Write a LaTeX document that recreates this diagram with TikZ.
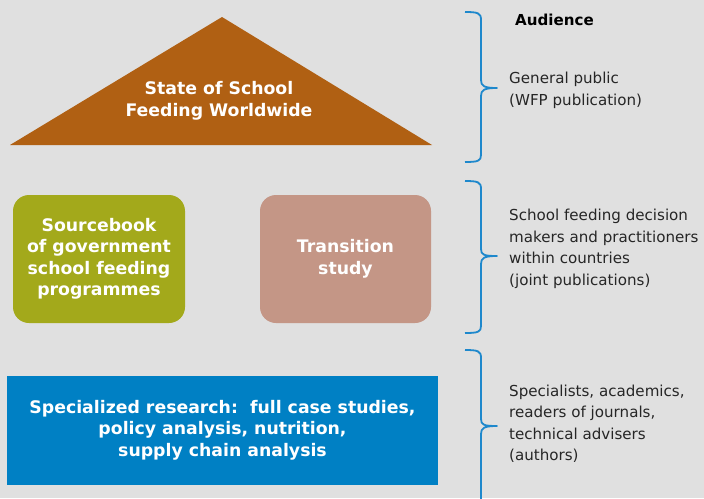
\documentclass[tikz,border=0pt]{standalone}
\usepackage{fontspec}
\setmainfont{DejaVu Sans}
\definecolor{bg}{HTML}{E0E0E0}
\definecolor{roof}{HTML}{B06013}
\definecolor{olive}{HTML}{A3A91B}
\definecolor{rose}{HTML}{C49686}
\definecolor{wfpblue}{HTML}{0080C4}
\definecolor{brace}{HTML}{1E88CC}
\tikzset{
  boxtext/.style={text=white, align=center, font=\fontsize{17.3}{21.5}\selectfont\bfseries},
  audtext/.style={text=black!85, align=left, anchor=north west, inner sep=0pt, font=\fontsize{15.1}{21.6}\selectfont},
  bracestyle/.style={draw=brace, line width=1.8pt, line join=round}
}
\begin{document}
\begin{tikzpicture}[x=1pt,y=-1pt]
\useasboundingbox (0,0) rectangle (704,498);
\fill[bg] (0,0) rectangle (704,498);
% roof
\fill[roof] (10,145) -- (222,17) -- (432,145) -- cycle;
\node[boxtext] (roofT) at (219,101) {State of School\\Feeding Worldwide};
% middle boxes
\node[fill=olive, rounded corners=16pt, minimum width=172pt, minimum height=128pt, boxtext, inner sep=0pt] (src) at (99,259) {Sourcebook\\of government\\school feeding\\programmes};
\node[fill=rose, rounded corners=16pt, minimum width=171pt, minimum height=128pt, boxtext, inner sep=0pt] (trans) at (345.5,259) {Transition\\study};
% blue box
\node[fill=wfpblue, minimum width=431pt, minimum height=109pt, boxtext, inner sep=0pt] (spec) at (222.5,430) {Specialized research:\ \ full case studies,\\policy analysis, nutrition,\\supply chain analysis};
% braces
\draw[bracestyle] (465,12) .. controls (478,12) and (481,13) .. (481,20) -- (481,80) .. controls (481,86) and (484,88) .. (497,88)
  .. controls (484,88) and (481,90) .. (481,96) -- (481,155) .. controls (481,161) and (478,162) .. (465,162);
\draw[bracestyle] (465,181) .. controls (478,181) and (481,182) .. (481,189) -- (481,249) .. controls (481,255) and (484,256) .. (497,256)
  .. controls (484,256) and (481,258) .. (481,264) -- (481,326) .. controls (481,332) and (478,333) .. (465,333);
\draw[bracestyle] (465,350) .. controls (478,350) and (481,351) .. (481,358) -- (481,419) .. controls (481,425) and (484,426) .. (497,426)
  .. controls (484,426) and (481,428) .. (481,434) -- (481,500);
% audience texts
\node[audtext, font=\fontsize{15.1}{21.6}\selectfont\bfseries, text=black] (aud) at (515,14) {Audience};
\node[audtext] (a1) at (509,72) {General public\\(WFP publication)};
\node[audtext] (a2) at (509,209) {School feeding decision\\makers and practitioners\\within countries\\(joint publications)};
\node[audtext] (a3) at (509,384.5) {Specialists, academics,\\readers of journals,\\technical advisers\\(authors)};
\end{tikzpicture}
\end{document}
